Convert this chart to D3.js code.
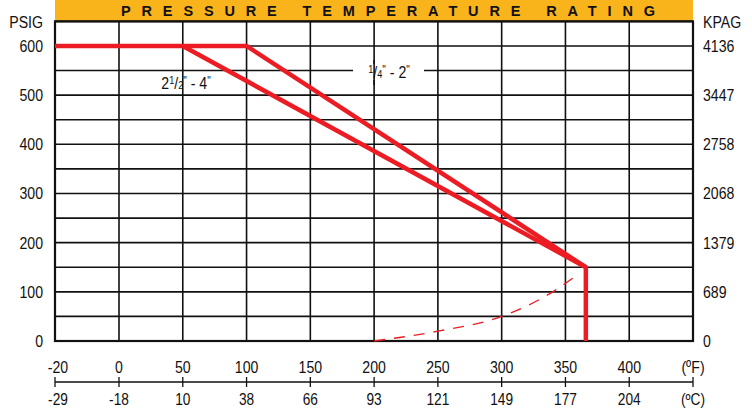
<!DOCTYPE html>
<html><head><meta charset="utf-8">
<script src="https://cdn.jsdelivr.net/npm/d3@7"></script>
<style>
html,body{margin:0;padding:0;background:#fff;}
svg{display:block;}
text{font-family:"Liberation Sans",Arial,sans-serif;fill:#111;}
</style></head>
<body>
<svg id="c" width="752" height="408"></svg>
<script>
// ---- data ----
const title = "PRESSURE TEMPERATURE RATING";
const fTicks = [-20, 0, 50, 100, 150, 200, 250, 300, 350, 400];
const cTicks = [-29, -18, 10, 38, 66, 93, 121, 149, 177, 204];
const psiTicks = [0, 100, 200, 300, 400, 500, 600];
const kpaTicks = [0, 689, 1379, 2068, 2758, 3447, 4136];
const gridPsi = [0, 50, 100, 150, 200, 250, 300, 350, 400, 450, 500, 550, 600, 650];
const gridF = [-20, 0, 50, 100, 150, 200, 250, 300, 350, 400, 450];
// series: 1/4" - 2"
const smallTemp = [-20, 100, 366, 366];
const smallPsi  = [600, 600, 150, 0];
// series: 2 1/2" - 4"
const largeTemp = [50, 366];
const largePsi  = [600, 150];
// dashed curve
const dashTemp = [200, 250, 300, 340, 357];
const dashPsi  = [0, 20, 50, 100, 130];

// ---- layout ----
const svg = d3.select("#c");
const L = 55, R = 693, T = 21.4, B = 341;
const x = d3.scaleLinear().domain([-20, 0, 450]).range([L, 119, R]);
const y = d3.scaleLinear().domain([0, 650]).range([B, T]);
const red = "#ec1c24";
const SX = 0.83;

function txt(px, py, s, anchor, size) {
  return svg.append("text")
    .attr("transform", `translate(${px},${py}) scale(${SX},1)`)
    .attr("text-anchor", anchor || "middle")
    .style("font-size", (size || 17) + "px")
    .text(s);
}

// title bar
svg.append("rect").attr("x", L).attr("y", 0).attr("width", R - L).attr("height", 21).attr("fill", "#f9b31b");
svg.append("text").attr("x", 121).attr("y", 15.5)
  .attr("textLength", 534).attr("lengthAdjust", "spacing")
  .style("font-weight", "bold").style("font-size", "14.5px")
  .text(title);

// grid
const g = svg.append("g");
g.selectAll("line.h").data(gridPsi).join("line")
  .attr("x1", L).attr("x2", R).attr("y1", d => y(d)).attr("y2", d => y(d))
  .attr("stroke", "#111").attr("stroke-width", 1.6);
g.selectAll("line.v").data(gridF).join("line")
  .attr("x1", d => x(d)).attr("x2", d => x(d)).attr("y1", T).attr("y2", B)
  .attr("stroke", "#111").attr("stroke-width", 1.6);
svg.append("rect").attr("x", L).attr("y", T).attr("width", R - L).attr("height", B - T)
  .attr("fill", "none").attr("stroke", "#111").attr("stroke-width", 2.2);

// label background for 1/4"-2"
svg.append("rect").attr("x", 353).attr("y", 64).attr("width", 71).attr("height", 16).attr("fill", "#fff");
svg.append("line").attr("x1", x(200)).attr("x2", x(200)).attr("y1", 60).attr("y2", 85)
  .attr("stroke", "#111").attr("stroke-width", 1.6);

// lines
const line = d3.line().x(d => x(d[0])).y(d => y(d[1]));
svg.append("path").datum(d3.zip(largeTemp, largePsi)).attr("d", line)
  .attr("fill", "none").attr("stroke", red).attr("stroke-width", 4.5);
svg.append("path").datum(d3.zip(smallTemp, smallPsi)).attr("d", line)
  .attr("fill", "none").attr("stroke", red).attr("stroke-width", 4.5).attr("stroke-linejoin", "miter");
svg.append("path").datum(d3.zip(dashTemp, dashPsi)).attr("d", line.curve(d3.curveMonotoneX))
  .attr("fill", "none").attr("stroke", red).attr("stroke-width", 1.4).attr("stroke-dasharray", "11,9");

// series labels
function fracLabel(cx, cy, whole, num, den, rest) {
  const t = txt(cx, cy, null, "middle", 17);
  if (whole) t.append("tspan").text(whole);
  t.append("tspan").attr("dy", -5).style("font-size", "11px").text(num);
  t.append("tspan").attr("dy", 5).style("font-size", "17px").text("/");
  t.append("tspan").style("font-size", "11px").text(den);
  t.append("tspan").attr("dy", -4).style("font-size", "12px").text("\"");
  t.append("tspan").attr("dy", 4).text(rest);
  t.append("tspan").attr("dy", -4).style("font-size", "12px").text("\"");
}
fracLabel(186, 89, "2", "1", "2", " - 4");
fracLabel(389, 78, "", "1", "4", " - 2");

// left / right axis labels
txt(43, 28, "PSIG", "end");
txt(703, 28, "KPAG", "start");
psiTicks.forEach(d => txt(43, y(d) + 6, d, "end"));
psiTicks.forEach((d, i) => txt(703, y(d) + 6, kpaTicks[i], "start"));

// bottom double axis
const ax = 382;
svg.append("line").attr("x1", L).attr("x2", R).attr("y1", ax).attr("y2", ax).attr("stroke", "#111").attr("stroke-width", 1.3);
svg.selectAll("line.t").data(gridF).join("line")
  .attr("x1", d => x(d)).attr("x2", d => x(d)).attr("y1", ax - 5).attr("y2", ax + 5)
  .attr("stroke", "#111").attr("stroke-width", 1.3);
fTicks.forEach((d, i) => txt(x(d) + (i === 0 ? 3 : 0), 373, d));
cTicks.forEach((d, i) => txt(x(fTicks[i]) + (i === 0 ? 3 : 0), 404.5, d, "middle", 16.5));
txt(x(450), 373, "(ºF)");
txt(x(450), 404.5, "(ºC)", "middle", 16.5);
</script>
</body></html>
